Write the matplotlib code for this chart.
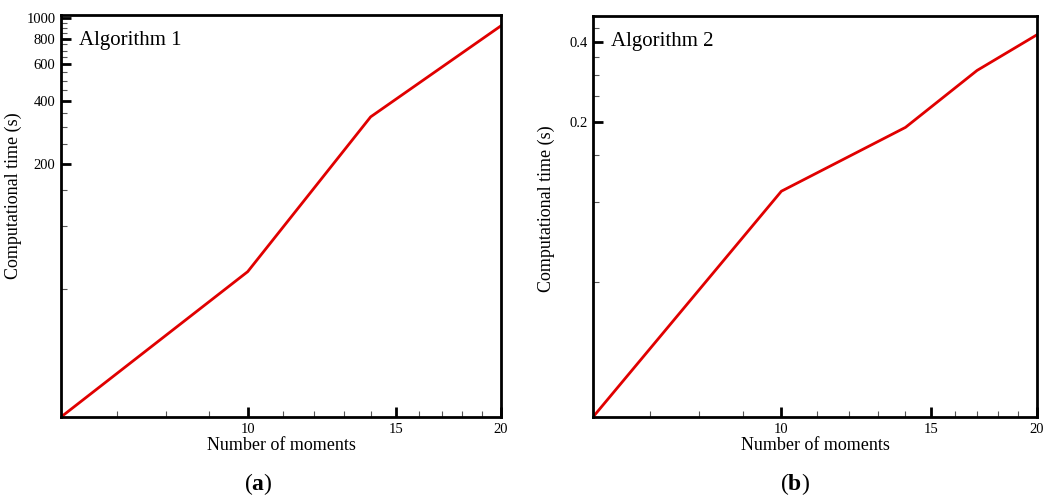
import numpy as np
import matplotlib.pyplot as plt
from matplotlib.ticker import FixedLocator, FixedFormatter, NullFormatter

plt.rcParams["font.family"] = ["Liberation Serif", "DejaVu Serif"]
plt.rcParams["mathtext.fontset"] = "custom"
plt.rcParams["mathtext.rm"] = "Liberation Serif"
plt.rcParams["mathtext.bf"] = "Liberation Serif:bold"

# data
moments_a = [6, 10, 14, 20]
time_a = [12.1, 60.5, 336, 921]
moments_b = [6, 10, 14, 17, 20]
time_b = [0.0155, 0.1096, 0.1905, 0.312, 0.425]

x_major = [10, 15, 20]
x_minor = [7, 8, 9, 11, 12, 13, 14, 16, 17, 18, 19]
ya_major = [200, 400, 600, 800, 1000]
ya_minor = [v for v in range(50, 1050, 50) if v not in ya_major]
yb_major = [0.2, 0.4]
yb_minor = [0.05, 0.1, 0.15, 0.25, 0.3, 0.35, 0.45]

fig = plt.figure(figsize=(10.57, 4.98), dpi=100)
W, H = 1057, 498
ax1 = fig.add_axes([61 / W, 1 - 417 / H, (501 - 61) / W, (417 - 15) / H])
ax2 = fig.add_axes([593 / W, 1 - 417 / H, (1037 - 593) / W, (417 - 16) / H])


def style_axis(ax, ymaj, ymin, ylabels, ylim, title, ylab_pos):
    ax.set_xscale("log")
    ax.set_yscale("log")
    ax.set_xlim(6, 20)
    ax.set_ylim(*ylim)
    ax.xaxis.set_major_locator(FixedLocator(x_major))
    ax.xaxis.set_major_formatter(FixedFormatter([str(v) for v in x_major]))
    ax.xaxis.set_minor_locator(FixedLocator(x_minor))
    ax.xaxis.set_minor_formatter(NullFormatter())
    ax.yaxis.set_major_locator(FixedLocator(ymaj))
    ax.yaxis.set_major_formatter(FixedFormatter(ylabels))
    ax.yaxis.set_minor_locator(FixedLocator(ymin))
    ax.yaxis.set_minor_formatter(NullFormatter())
    ax.tick_params(which="major", direction="in", length=7, width=2, labelsize=10.5, pad=4)
    ax.tick_params(which="minor", direction="in", length=4, width=0.8, color="#555555")
    ax.tick_params(axis="x", which="major", pad=4)
    for s in ax.spines.values():
        s.set_linewidth(2)
    ax.set_xlabel("Number of moments", fontsize=13)
    ax.xaxis.set_label_coords(0.5, -0.05)
    ax.set_ylabel("Computational time (s)", fontsize=13)
    ax.yaxis.set_label_coords(*ylab_pos)
    ax.text(0.04, 0.96, title, transform=ax.transAxes, fontsize=15, va="top", ha="left")


ax1.plot(moments_a, time_a, color="#e00000", lw=2)
style_axis(ax1, ya_major, ya_minor, [str(v) for v in ya_major], (12.1, 1038),
           "Algorithm 1", ((22 - 61) / 440, 0.55))

ax2.plot(moments_b, time_b, color="#e00000", lw=2)
style_axis(ax2, yb_major, yb_minor, ["0.2", "0.4"], (0.0155, 0.5),
           "Algorithm 2", ((555 - 593) / 444, 0.52))

for xc, letter in [(258, "a"), (795, "b")]:
    fig.text(xc / W, 1 - 484 / H, "(" + r"$\mathbf{" + letter + "}$" + ")",
             ha="center", va="center", fontsize=17)

fig.savefig("out.png", dpi=100)
